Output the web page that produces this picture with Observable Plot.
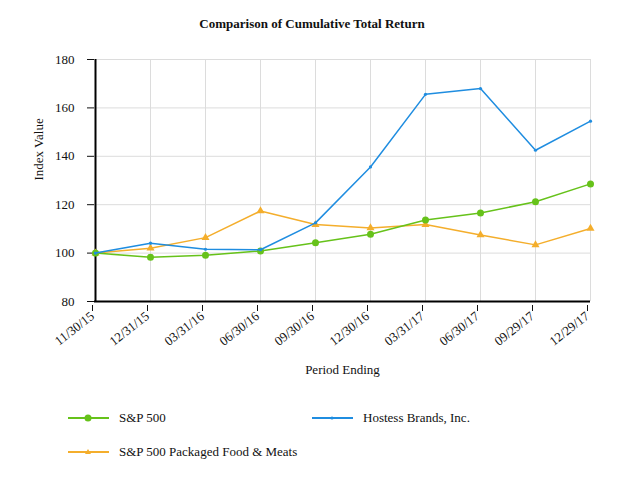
<!DOCTYPE html>
<html>
<head>
<meta charset="utf-8">
<script src="https://cdn.jsdelivr.net/npm/d3@7"></script>
<script src="https://cdn.jsdelivr.net/npm/@observablehq/plot@0.6"></script>
<style>
  body { margin: 0; background: #fff; }
  #wrap { position: relative; width: 624px; height: 488px; font-family: "Liberation Serif", "Times New Roman", serif; color: #111; }
  #title { position: absolute; top: 16px; left: 0; width: 624px; text-align: center; font-weight: bold; font-size: 13px; }
  #chart { position: absolute; top: 0; left: 0; }
  .leg { position: absolute; font-size: 13px; display: flex; align-items: center; height: 16px; }
  .leg svg { margin-right: 10px; }
</style>
</head>
<body>
<div id="wrap">
  <div id="chart"></div>
  <div id="title">Comparison of Cumulative Total Return</div>
  <div id="legend"></div>
</div>
<script>
const dates = ["11/30/15","12/31/15","03/31/16","06/30/16","09/30/16","12/30/16","03/31/17","06/30/17","09/29/17","12/29/17"];
const sp500 = [100, 98.3, 99.1, 100.9, 104.3, 107.8, 113.7, 116.6, 121.2, 128.6];
const hostess = [100, 104.1, 101.6, 101.4, 112.5, 135.6, 165.6, 168.0, 142.5, 154.5];
const food = [100, 102.0, 106.4, 117.4, 111.8, 110.4, 111.8, 107.5, 103.4, 110.2];
const yTicks = [80, 100, 120, 140, 160, 180];
const seriesNames = ["S&P 500", "Hostess Brands, Inc.", "S&P 500 Packaged Food & Meats"];
const colors = ["#66c21a", "#1f8de0", "#f4ae2c"];

const rows = (vals, name) => dates.map((d, i) => ({date: d, value: vals[i], series: name}));
const spRows = rows(sp500, seriesNames[0]);
const hoRows = rows(hostess, seriesNames[1]);
const fdRows = rows(food, seriesNames[2]);

const chart = Plot.plot({
  width: 624,
  height: 400,
  marginTop: 59,
  marginBottom: 99,
  marginLeft: 94,
  marginRight: 34,
  style: {fontFamily: '"Liberation Serif", "Times New Roman", serif', fontSize: "13px", color: "#111", background: "transparent"},
  x: {type: "point", domain: dates, padding: 0},
  y: {domain: [80, 180]},
  marks: [
    Plot.gridX(dates, {stroke: "#dcdcdc", strokeOpacity: 1}),
    Plot.gridY(yTicks, {stroke: "#dcdcdc", strokeOpacity: 1}),
    Plot.axisY(yTicks, {tickSize: 7, tickPadding: 13, label: null, stroke: "#111", fill: "#111"}),
    Plot.axisX(dates, {tickSize: 6, tickPadding: 3, tickRotate: -38, dx: -3, dy: 4, label: null, stroke: "#111", fill: "#111"}),
    Plot.ruleY([80], {stroke: "#000", strokeWidth: 2}),
    Plot.ruleX([dates[0]], {y1: 80, y2: 180, stroke: "#000", strokeWidth: 2}),
    Plot.line(fdRows, {x: "date", y: "value", stroke: colors[2], strokeWidth: 1.5}),
    Plot.dot(fdRows, {x: "date", y: "value", symbol: "triangle", r: 3, fill: colors[2], stroke: "none"}),
    Plot.line(spRows, {x: "date", y: "value", stroke: colors[0], strokeWidth: 1.5}),
    Plot.dot(spRows, {x: "date", y: "value", r: 3.5, fill: colors[0], stroke: "none"}),
    Plot.line(hoRows, {x: "date", y: "value", stroke: colors[1], strokeWidth: 1.5}),
    Plot.dot(hoRows, {x: "date", y: "value", r: 1.6, fill: colors[1], stroke: "none"}),
    Plot.text(["Index Value"], {frameAnchor: "left", text: d => d, rotate: -90, dx: -56, fill: "#111"}),
    Plot.text(["Period Ending"], {frameAnchor: "bottom", text: d => d, dy: 72, fill: "#111"})
  ]
});
document.getElementById("chart").appendChild(chart);

// legend
const legendPos = [
  {left: 68, top: 410},
  {left: 312, top: 410},
  {left: 68, top: 444}
];
const markers = [
  '<circle cx="20" cy="6" r="3.5" fill="' + colors[0] + '"/>',
  '<circle cx="20" cy="6" r="1.6" fill="' + colors[1] + '"/>',
  '<path d="M20,3 L23,8 L17,8 Z" fill="' + colors[2] + '"/>'
];
const legend = document.getElementById("legend");
seriesNames.forEach((name, i) => {
  const div = document.createElement("div");
  div.className = "leg";
  div.style.left = legendPos[i].left + "px";
  div.style.top = legendPos[i].top + "px";
  div.innerHTML = '<svg width="41" height="12"><line x1="0" y1="6" x2="41" y2="6" stroke="' + colors[i] + '" stroke-width="2"/>' + markers[i] + '</svg><span>' + name + '</span>';
  legend.appendChild(div);
});
</script>
</body>
</html>
